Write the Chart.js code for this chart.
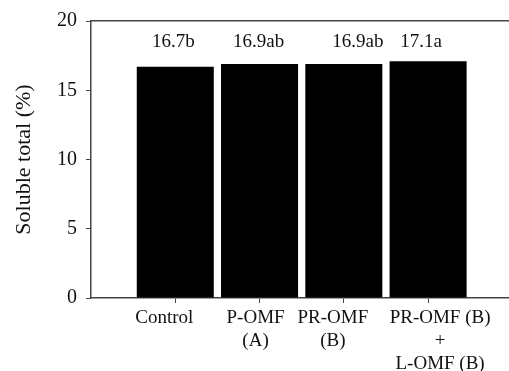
<!DOCTYPE html>
<html>
<head>
<meta charset="utf-8">
<script src="https://cdn.jsdelivr.net/npm/chart.js@4/dist/chart.umd.min.js"></script>
<style>
  html, body { margin: 0; padding: 0; background: #fff; }
  #wrap { width: 509px; height: 371px; }
</style>
</head>
<body>
<div id="wrap"><canvas id="grafico"></canvas></div>
<script>
// dados
var categorias = [['Control'], ['P-OMF', '(A)'], ['PR-OMF', '(B)'], ['PR-OMF (B)', '+', 'L-OMF (B)']];
var valores = [16.7, 16.9, 16.9, 17.1];
var letras = ['b', 'ab', 'ab', 'a'];
var ticksY = [0, 5, 10, 15, 20];

var fonte = 'Liberation Serif, Times New Roman, serif';
var corEixo = '#444';
var larguraCat = 84.27; // px por categoria, so p/ converter os desvios

// desvios (px) dos textos em relacao ao centro da barra, como no original
var desvioRotulo = [-2, -1, 14, -7];
var desvioEixo = [-11, -4, -11, 12];

// rotulos em cima das barras (valor + letra)
var rotulosBarras = {
    id: 'rotulosBarras',
    afterDatasetsDraw: function (chart) {
        var ctx = chart.ctx;
        var x = chart.scales.x, y = chart.scales.y;
        ctx.save();
        ctx.font = '19px ' + fonte;
        ctx.fillStyle = '#111';
        ctx.textAlign = 'center';
        ctx.textBaseline = 'middle';
        valores.forEach(function (v, i) {
            ctx.fillText(v.toFixed(1) + letras[i], x.getPixelForValue(i) + desvioRotulo[i], y.getPixelForValue(18.45));
        });
        ctx.restore();
    }
};

var ctx = document.getElementById('grafico').getContext('2d');

var grafico = new Chart(ctx, {
    type: 'bar',
    data: {
        datasets: [{
            label: 'Soluble total',
            backgroundColor: '#000',
            borderWidth: 0,
            barPercentage: 0.914,
            categoryPercentage: 1,
            data: valores.map(function (v, i) { return { x: i, y: v }; })
        }]
    },
    plugins: [rotulosBarras],
    options: {
        responsive: true,
        maintainAspectRatio: false,
        animation: false,
        layout: { padding: { left: 0, right: 0, top: 21, bottom: 0 } },
        plugins: {
            legend: { display: false },
            tooltip: { enabled: false }
        },
        scales: {
            // eixo principal: so a linha e os tracinhos
            x: {
                type: 'linear',
                offset: false,
                min: -1,
                max: 3.96,
                weight: 1,
                afterBuildTicks: function (scale) {
                    scale.ticks = categorias.map(function (c, i) { return { value: i }; });
                },
                afterFit: function (scale) { scale.height = 5; },
                grid: { offset: false, drawOnChartArea: false, drawTicks: true, tickLength: 5, color: corEixo },
                border: { display: true, color: corEixo, width: 1.5 },
                ticks: { display: false }
            },
            // eixo so com os nomes das categorias
            xNomes: {
                type: 'linear',
                position: 'bottom',
                offset: false,
                min: -1,
                max: 3.96,
                weight: 2,
                afterBuildTicks: function (scale) {
                    scale.ticks = categorias.map(function (c, i) { return { value: i + desvioEixo[i] / larguraCat }; });
                },
                afterFit: function (scale) { scale.height = 68; },
                grid: { display: false, drawTicks: false },
                border: { display: false },
                ticks: {
                    maxRotation: 0,
                    autoSkip: false,
                    padding: 4,
                    color: '#111',
                    font: { family: fonte, size: 19, lineHeight: 1.2 },
                    callback: function (value, index) { return categorias[index] || ''; }
                }
            },
            xTopo: {
                type: 'linear',
                position: 'top',
                min: 0,
                max: 1,
                afterFit: function (scale) { scale.height = 0; },
                grid: { display: false },
                border: { display: true, color: corEixo, width: 1.5 },
                ticks: { display: false }
            },
            y: {
                min: 0,
                max: 20,
                afterBuildTicks: function (scale) {
                    scale.ticks = ticksY.map(function (t) { return { value: t }; });
                },
                afterFit: function (scale) { scale.width = 91; },
                grid: { drawOnChartArea: false, drawTicks: true, tickLength: 5, color: corEixo },
                border: { display: true, color: corEixo, width: 1.5 },
                ticks: {
                    padding: 9,
                    color: '#111',
                    font: { family: fonte, size: 20 }
                },
                title: {
                    display: true,
                    text: 'Soluble total (%)',
                    color: '#111',
                    padding: { top: 11, bottom: 0 },
                    font: { family: fonte, size: 22, lineHeight: 1.2 }
                }
            }
        }
    }
});
</script>
</body>
</html>
